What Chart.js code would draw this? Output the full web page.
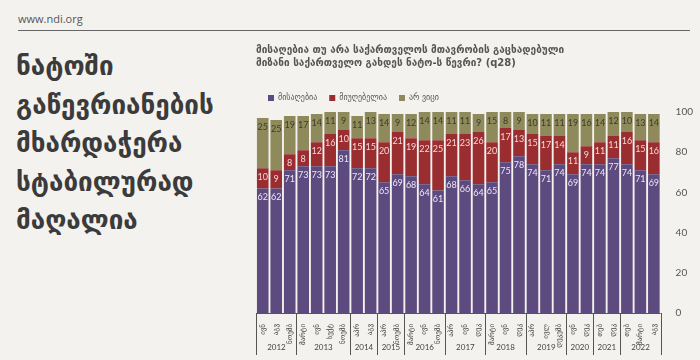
<!DOCTYPE html>
<html>
<head>
<meta charset="utf-8">
<script src="https://cdn.jsdelivr.net/npm/chart.js@4.4.0/dist/chart.umd.min.js"></script>
<style>
  html, body { margin: 0; padding: 0; background: #f4f2ee; }
  #wrap { position: relative; width: 700px; height: 360px; overflow: hidden; }
  #site { position: absolute; left: 18px; top: 11px; font: 11px "Open Sans", sans-serif; color: #555; }
  #rule { position: absolute; left: 18px; top: 30px; width: 672px; border-top: 1px solid #666; }
  #head { position: absolute; left: 16px; top: 47px; font: bold 26px "DejaVu Sans", sans-serif; color: #3b3b3b; line-height: 38.5px; }
  canvas { position: absolute; left: 0; top: 0; }
</style>
</head>
<body>
<div id="wrap">
  <div id="site">www.ndi.org</div>
  <div id="rule"></div>
  <div id="head">ნატოში<br>გაწევრიანების<br>მხარდაჭერა<br>სტაბილურად<br>მაღალია</div>
  <canvas id="chart" width="700" height="360"></canvas>
</div>
<script>
// Თვეები (ქვედა ღერძი)
const labels = [
  "ივნ", "აგვ", "ნოემბ",
  "მარტი", "ივნ", "სექტ", "ნოემბ",
  "აპრ", "აგვ",
  "აპრ", "ნოემბ",
  "მარტი", "ივნ", "ნოემბ",
  "აპრ", "ივნ", "დეკ",
  "მარტი", "ივნ", "დეკ",
  "აპრ", "ივლ", "დეკემბ",
  "ივნ", "დეკ",
  "თებ", "დეკ",
  "თებ", "მარტი", "აგვ",
];

const years = ["2012", "2013", "2014", "2015", "2016", "2017", "2018", "2019", "2020", "2021", "2022"];
const yearCounts = [3, 4, 2, 2, 3, 3, 3, 3, 2, 2, 3];

// სერიები
const acceptable = [62, 62, 71, 73, 73, 73, 81, 72, 72, 65, 69, 68, 64, 61, 68, 66, 64, 65, 75, 78, 74, 71, 74, 69, 74, 74, 77, 74, 71, 69];
const unacceptable = [10, 9, 8, 8, 12, 16, 10, 15, 15, 20, 21, 19, 22, 25, 21, 23, 26, 20, 17, 13, 15, 17, 14, 11, 9, 11, 11, 16, 15, 16];
const dontKnow = [25, 25, 19, 17, 14, 11, 9, 11, 13, 14, 9, 12, 14, 14, 11, 11, 9, 15, 8, 9, 10, 11, 11, 19, 16, 14, 12, 10, 13, 14];

const seriesNames = ["მისაღებია", "მიუღებელია", "არ ვიცი"];
const barColors = ["#5d4a7e", "#9a2d30", "#8e8a5c"];
const valueColors = ["#ece6f6", "#f6d6d6", "#3e3d28"];

// მნიშვნელობები ბარებზე
const valueLabels = {
  id: "valueLabels",
  afterDatasetsDraw(chart) {
    const ctx = chart.ctx;
    ctx.save();
    ctx.font = "9px Lato";
    ctx.textAlign = "center";
    ctx.textBaseline = "middle";
    chart.data.datasets.forEach((ds, i) => {
      ctx.fillStyle = valueColors[i];
      chart.getDatasetMeta(i).data.forEach((bar, j) => {
        ctx.fillText(ds.data[j], bar.x, bar.y + 9);
      });
    });
    ctx.restore();
  },
};

// წლების ჯგუფები ქვედა ღერძზე
const yearGroups = {
  id: "yearGroups",
  afterDraw(chart) {
    const x = chart.scales.x;
    const ctx = chart.ctx;
    const top = chart.chartArea.bottom;
    const half = (x.getPixelForValue(1) - x.getPixelForValue(0)) / 2;
    ctx.save();
    ctx.strokeStyle = "#555";
    ctx.lineWidth = 1;
    ctx.beginPath();
    ctx.moveTo(x.getPixelForValue(0) - half, top + 0.5);
    ctx.lineTo(x.getPixelForValue(labels.length - 1) + half, top + 0.5);
    ctx.stroke();
    ctx.font = "8px Lato";
    ctx.fillStyle = "#444";
    ctx.textAlign = "center";
    ctx.textBaseline = "middle";
    let idx = 0;
    years.forEach((y, k) => {
      const left = Math.round(x.getPixelForValue(idx) - half) + 0.5;
      const right = x.getPixelForValue(idx + yearCounts[k] - 1) + half;
      ctx.beginPath();
      ctx.moveTo(left, top);
      ctx.lineTo(left, top + 42);
      ctx.stroke();
      ctx.fillText(y, (left + right) / 2, top + 34);
      idx += yearCounts[k];
    });
    const end = Math.round(x.getPixelForValue(labels.length - 1) + half) + 0.5;
    ctx.beginPath();
    ctx.moveTo(end, top);
    ctx.lineTo(end, top + 42);
    ctx.stroke();
    ctx.restore();
  },
};

new Chart(document.getElementById("chart"), {
  type: "bar",
  data: {
    labels: labels,
    datasets: [
      { label: seriesNames[0], data: acceptable, backgroundColor: barColors[0] },
      { label: seriesNames[1], data: unacceptable, backgroundColor: barColors[1] },
      { label: seriesNames[2], data: dontKnow, backgroundColor: barColors[2] },
    ],
  },
  options: {
    responsive: false,
    animation: false,
    datasets: { bar: { barPercentage: 0.86, categoryPercentage: 1, borderWidth: 0 } },
    layout: { padding: { left: 256, right: 0, top: 44, bottom: 0 } },
    scales: {
      x: {
        stacked: true,
        grid: { display: false },
        border: { display: false },
        afterFit: (scale) => { scale.height = 47; },
        ticks: {
          autoSkip: false,
          minRotation: 90,
          maxRotation: 90,
          padding: 3,
          color: "#444",
          font: { family: "DejaVu Sans", size: 7 },
        },
      },
      y: {
        stacked: true,
        position: "right",
        min: 0,
        max: 100,
        grid: { display: false },
        border: { display: false },
        ticks: { stepSize: 20, padding: 7, color: "#555", font: { family: "Lato", size: 10 } },
      },
    },
    plugins: {
      title: {
        display: true,
        align: "start",
        text: [
          "მისაღებია თუ არა საქართველოს მთავრობის გაცხადებული",
          "მიზანი საქართველო გახდეს ნატო-ს წევრი? (q28)",
        ],
        color: "#555",
        font: { family: "DejaVu Sans", size: 10, weight: "bold", lineHeight: 1.3 },
        padding: { top: 0, bottom: 12 },
      },
      legend: {
        align: "start",
        labels: {
          boxWidth: 6,
          boxHeight: 6,
          padding: 12,
          color: "#555",
          font: { family: "DejaVu Sans", size: 8 },
        },
      },
      tooltip: { enabled: false },
    },
  },
  plugins: [valueLabels, yearGroups],
});
</script>
</body>
</html>
